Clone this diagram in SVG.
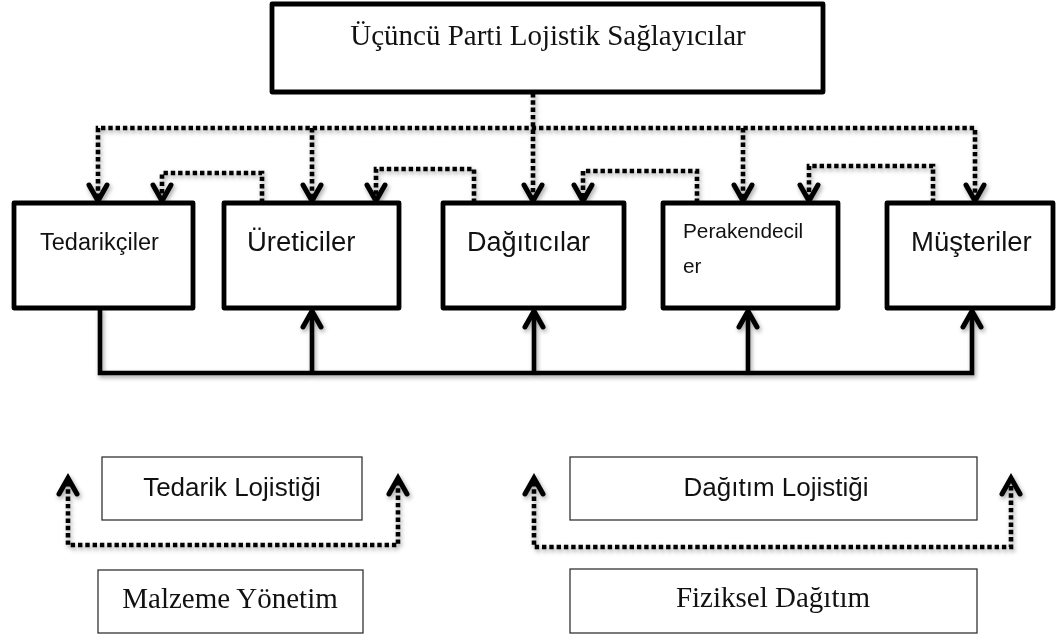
<svg xmlns="http://www.w3.org/2000/svg" xmlns:xlink="http://www.w3.org/1999/xlink" width="1057" height="636" viewBox="0 0 1057 636">
  <style>
    .box { fill: #fff; stroke: #000; stroke-width: 4.8; stroke-linejoin: round; }
    .thin { fill: #fff; stroke: #333; stroke-width: 1.3; }
    .sans { font-family: "Liberation Sans", Arial, sans-serif; fill: #111; }
    .serif { font-family: "Liberation Serif", "Times New Roman", serif; fill: #111; font-size: 29px; }
    .dot { fill: none; stroke: #000; stroke-width: 4.6; stroke-dasharray: 4.4 2.9; }
    .solid { fill: none; stroke: #000; stroke-width: 4.6; stroke-linejoin: miter; }
    .head { fill: none; stroke: #000; stroke-width: 5; stroke-linecap: round; stroke-linejoin: miter; }
  </style>
  <defs>
    <filter id="shadow" filterUnits="userSpaceOnUse" x="0" y="0" width="1057" height="636">
      <feDropShadow dx="1.5" dy="2.5" stdDeviation="2" flood-color="#000" flood-opacity="0.35"/>
    </filter>
    <path id="down" d="M-9,-16 L0,0 L9,-16"/>
    <path id="up" d="M-9,16 L0,0 L9,16"/>
  </defs>
  <rect width="1057" height="636" fill="#fff"/>

  <!-- connectors -->
  <g id="connectors" filter="url(#shadow)">
    <!-- dotted links from the 3PL provider to every member -->
    <path class="dot" d="M533,93 V198"/>
    <path class="dot" d="M98,198 V128 H975 V198"/>
    <path class="dot" d="M312,128 V198"/>
    <path class="dot" d="M743,128 V198"/>
    <!-- dotted links between neighbours -->
    <path class="dot" d="M262,203 V173 H162 V198"/>
    <path class="dot" d="M474,203 V169 H376 V198"/>
    <path class="dot" d="M697,203 V171 H583 V198"/>
    <path class="dot" d="M933,203 V166 H809 V198"/>
    <g class="head">
      <use xlink:href="#down" x="98" y="201"/>
      <use xlink:href="#down" x="162" y="201"/>
      <use xlink:href="#down" x="312" y="201"/>
      <use xlink:href="#down" x="376" y="201"/>
      <use xlink:href="#down" x="533" y="201"/>
      <use xlink:href="#down" x="583" y="201"/>
      <use xlink:href="#down" x="743" y="201"/>
      <use xlink:href="#down" x="809" y="201"/>
      <use xlink:href="#down" x="975" y="201"/>
    </g>
    <!-- solid material flow along the bottom -->
    <path class="solid" d="M100,308 V373 H972 V312"/>
    <path class="solid" d="M312,373 V312"/>
    <path class="solid" d="M534,373 V312"/>
    <path class="solid" d="M748,373 V312"/>
    <g class="head">
      <use xlink:href="#up" x="312" y="311"/>
      <use xlink:href="#up" x="534" y="311"/>
      <use xlink:href="#up" x="748" y="311"/>
      <use xlink:href="#up" x="972" y="311"/>
    </g>
    <!-- dotted brackets under the logistics labels -->
    <path class="dot" d="M68,482 V545 H398 V482"/>
    <path class="dot" d="M534,482 V547 H1011 V482"/>
    <g class="head">
      <use xlink:href="#up" x="68" y="478"/>
      <use xlink:href="#up" x="398" y="478"/>
      <use xlink:href="#up" x="534" y="478"/>
      <use xlink:href="#up" x="1011" y="478"/>
    </g>
  </g>

  <!-- nodes -->
  <g id="node-3pl">
    <rect class="box" x="272" y="4" width="551" height="88"/>
    <text class="serif" x="548" y="45" text-anchor="middle">Üçüncü Parti Lojistik Sağlayıcılar</text>
  </g>
  <g id="node-tedarikciler">
    <rect class="box" x="14" y="203" width="179" height="105"/>
    <text class="sans" x="40" y="250" font-size="23.5">Tedarikçiler</text>
  </g>
  <g id="node-ureticiler">
    <rect class="box" x="224" y="203" width="175" height="105"/>
    <text class="sans" x="247" y="251" font-size="27.5">Üreticiler</text>
  </g>
  <g id="node-dagiticilar">
    <rect class="box" x="443" y="203" width="181" height="105"/>
    <text class="sans" x="467" y="251" font-size="27">Dağıtıcılar</text>
  </g>
  <g id="node-perakendeciler">
    <rect class="box" x="663" y="203" width="175" height="105"/>
    <text class="sans" x="683" y="238" font-size="20.8">Perakendecil</text>
    <text class="sans" x="683" y="273" font-size="20.8">er</text>
  </g>
  <g id="node-musteriler">
    <rect class="box" x="887" y="203" width="166" height="105"/>
    <text class="sans" x="911" y="251" font-size="27.5">Müşteriler</text>
  </g>
  <g id="node-tedarik-lojistigi">
    <rect class="thin" x="102" y="457" width="260" height="63"/>
    <text class="sans" x="232" y="496" font-size="26" text-anchor="middle">Tedarik Lojistiği</text>
  </g>
  <g id="node-malzeme-yonetim">
    <rect class="thin" x="98" y="570" width="265" height="63"/>
    <text class="serif" x="230" y="608" text-anchor="middle">Malzeme Yönetim</text>
  </g>
  <g id="node-dagitim-lojistigi">
    <rect class="thin" x="570" y="457" width="407" height="63"/>
    <text class="sans" x="776" y="496" font-size="26" text-anchor="middle">Dağıtım Lojistiği</text>
  </g>
  <g id="node-fiziksel-dagitim">
    <rect class="thin" x="570" y="569" width="407" height="64"/>
    <text class="serif" x="773" y="607" text-anchor="middle">Fiziksel Dağıtım</text>
  </g>
</svg>
